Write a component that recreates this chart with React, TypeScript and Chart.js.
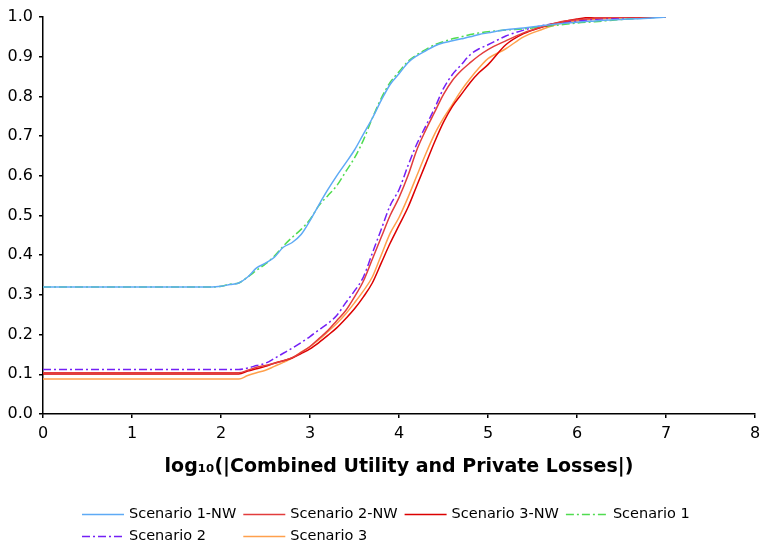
import React, { useEffect, useRef } from "react";
import { Chart, registerables } from "chart.js";

Chart.register(...registerables);

const xValues = [
  0, 1.9, 2.0, 2.1, 2.2, 2.3, 2.4, 2.5, 2.6, 2.7, 2.8, 2.9, 3.0, 3.1, 3.2, 3.3, 3.4, 3.5, 3.6, 3.7, 3.8, 3.9,
  4.0, 4.1, 4.2, 4.3, 4.4, 4.5, 4.6, 4.7, 4.8, 4.9, 5.0, 5.2, 5.4, 5.6, 5.8, 6.0, 6.2, 6.4, 6.6, 6.8, 7.0,
];

const scenario1NW = [
  0.32, 0.32, 0.322, 0.326, 0.33, 0.345, 0.368, 0.38, 0.395, 0.42, 0.432, 0.452, 0.487, 0.527, 0.565, 0.6, 0.632,
  0.665, 0.705, 0.745, 0.79, 0.83, 0.857, 0.885, 0.902, 0.915, 0.927, 0.935, 0.94, 0.945, 0.95, 0.956, 0.96,
  0.968, 0.972, 0.978, 0.983, 0.987, 0.99, 0.993, 0.995, 0.997, 1.0,
];

const scenario2NW = [
  0.104, 0.104, 0.104, 0.104, 0.104, 0.11, 0.118, 0.122, 0.128, 0.134, 0.142, 0.155, 0.17, 0.19, 0.21, 0.235,
  0.26, 0.295, 0.335, 0.39, 0.445, 0.5, 0.545, 0.6, 0.665, 0.715, 0.76, 0.805, 0.84, 0.865, 0.885, 0.903, 0.918,
  0.94, 0.96, 0.975, 0.987, 0.993, 0.997, 0.999, 1.0, 1.0, 1.0,
];

const scenario3NW = [
  0.101, 0.101, 0.101, 0.101, 0.101, 0.108, 0.114, 0.12, 0.128, 0.134, 0.141, 0.152, 0.164, 0.18, 0.198, 0.217,
  0.24, 0.265, 0.295, 0.33, 0.38, 0.43, 0.475, 0.52, 0.575, 0.63, 0.685, 0.735, 0.775, 0.805, 0.835, 0.86, 0.88,
  0.93, 0.958, 0.974, 0.986, 0.995, 1.0, 1.0, 1.0, 1.0, 1.0,
];

const scenario1 = [
  0.32, 0.32, 0.322, 0.327, 0.33, 0.345, 0.362, 0.378, 0.398, 0.423, 0.445, 0.465, 0.49, 0.525, 0.55, 0.575,
  0.61, 0.645, 0.69, 0.745, 0.795, 0.835, 0.862, 0.888, 0.905, 0.918, 0.93, 0.938, 0.945, 0.95, 0.956, 0.96,
  0.963, 0.967, 0.97, 0.975, 0.98, 0.985, 0.988, 0.992, 0.995, 0.998, 1.0,
];

const scenario2 = [
  0.112, 0.112, 0.112, 0.112, 0.112, 0.116, 0.122, 0.128, 0.14, 0.153, 0.166, 0.18, 0.195, 0.212, 0.228, 0.248,
  0.28, 0.31, 0.345, 0.405, 0.465, 0.525, 0.565, 0.625, 0.68, 0.725, 0.77, 0.82, 0.855, 0.88, 0.905, 0.92, 0.93,
  0.952, 0.967, 0.978, 0.985, 0.99, 0.994, 0.997, 0.998, 0.999, 1.0,
];

const scenario3 = [
  0.088, 0.088, 0.088, 0.088, 0.088, 0.097, 0.104, 0.11, 0.12, 0.13, 0.141, 0.156, 0.17, 0.187, 0.207, 0.228,
  0.252, 0.28, 0.31, 0.345, 0.4, 0.455, 0.495, 0.545, 0.6, 0.655, 0.705, 0.745, 0.78, 0.815, 0.845, 0.872, 0.895,
  0.92, 0.95, 0.968, 0.983, 0.99, 0.994, 0.997, 0.998, 0.999, 1.0,
];

const seriesLabels = ["Scenario 1-NW", "Scenario 2-NW", "Scenario 3-NW", "Scenario 1", "Scenario 2", "Scenario 3"];
const xTickValues = [0, 1, 2, 3, 4, 5, 6, 7, 8];
const axisTitle = "log\u2081\u2080(|Combined Utility and Private Losses|)";

const FONT = '"DejaVu Sans", Verdana, sans-serif';

const legendPlugin = {
  id: "gridLegend",
  afterDraw(chart: any) {
    const ctx = chart.ctx as CanvasRenderingContext2D;
    ctx.save();
    ctx.font = `14.5px ${FONT}`;
    ctx.textBaseline = "middle";
    ctx.textAlign = "left";
    chart.data.datasets.forEach((ds: any, i: number) => {
      const col = i % 4;
      const row = Math.floor(i / 4);
      const x = 82 + col * 161.3;
      const y = 514 + row * 22;
      ctx.strokeStyle = ds.borderColor;
      ctx.lineWidth = ds.borderWidth;
      ctx.setLineDash(ds.borderDash || []);
      ctx.beginPath();
      ctx.moveTo(x, y + 0.5);
      ctx.lineTo(x + 42, y + 0.5);
      ctx.stroke();
      ctx.setLineDash([]);
      ctx.fillStyle = "#000";
      ctx.fillText(ds.label, x + 47, y);
    });
    ctx.restore();
  },
};

export default function App() {
  const ref = useRef<HTMLCanvasElement | null>(null);

  useEffect(() => {
    if (!ref.current) return;
    const mk = (vals: number[]) => xValues.map((x, i) => ({ x, y: vals[i] }));
    const styles = [
      { color: "#5eaaf5", dash: [] as number[] },
      { color: "#e23c3c", dash: [] as number[] },
      { color: "#dc0000", dash: [] as number[] },
      { color: "#50dc50", dash: [8, 3, 2, 3] },
      { color: "#7420f5", dash: [8, 3, 2, 3] },
      { color: "#ffa04c", dash: [] as number[] },
    ];
    const all = [scenario1NW, scenario2NW, scenario3NW, scenario1, scenario2, scenario3];
    const chart = new Chart(ref.current, {
      type: "line",
      data: {
        datasets: all.map((vals, i) => ({
          label: seriesLabels[i],
          data: mk(vals),
          borderColor: styles[i].color,
          backgroundColor: styles[i].color,
          borderWidth: 1.5,
          borderDash: styles[i].dash,
          pointRadius: 0,
          fill: false,
          cubicInterpolationMode: "monotone" as const,
        })),
      },
      options: {
        animation: false,
        responsive: false,
        devicePixelRatio: 1,
        layout: { padding: { top: 17, right: 5, bottom: 62, left: 0 } },
        plugins: {
          legend: { display: false },
          tooltip: { enabled: false },
          title: { display: false },
        },
        scales: {
          x: {
            type: "linear",
            min: 0,
            max: 8,
            afterBuildTicks: (scale: any) => {
              scale.ticks = xTickValues.map((v) => ({ value: v }));
            },
            afterFit: (scale: any) => {
              scale.height = 67;
              scale.paddingLeft = 0;
              scale.paddingRight = 0;
            },
            ticks: {
              color: "#000",
              font: { family: FONT, size: 16 },
              padding: 6,
              maxRotation: 0,
              autoSkip: false,
              callback: (v: any) => String(v),
            },
            grid: {
              display: true,
              drawOnChartArea: false,
              drawTicks: true,
              tickLength: 4,
              color: "#000",
              lineWidth: 1.5,
            },
            border: { display: true, color: "#000", width: 1.5 },
            title: {
              display: true,
              text: axisTitle,
              color: "#000",
              font: { family: FONT, size: 19, weight: "bold" },
              padding: { top: 0, bottom: 3 },
            },
          },
          y: {
            type: "linear",
            min: 0,
            max: 1,
            afterFit: (scale: any) => {
              scale.width = 43;
              scale.paddingTop = 0;
              scale.paddingBottom = 0;
            },
            ticks: {
              stepSize: 0.1,
              color: "#000",
              font: { family: FONT, size: 16 },
              padding: 6,
              callback: (v: any) => Number(v).toFixed(1),
            },
            grid: {
              display: true,
              drawOnChartArea: false,
              drawTicks: true,
              tickLength: 4,
              color: "#000",
              lineWidth: 1.5,
            },
            border: { display: true, color: "#000", width: 1.5 },
          },
        },
      },
      plugins: [legendPlugin],
    });
    return () => chart.destroy();
  }, []);

  return (
    <div style={{ position: "fixed", left: 0, top: 0, width: 760, height: 543, background: "#fff" }}>
      <canvas ref={ref} width={760} height={543} style={{ display: "block" }} />
    </div>
  );
}
